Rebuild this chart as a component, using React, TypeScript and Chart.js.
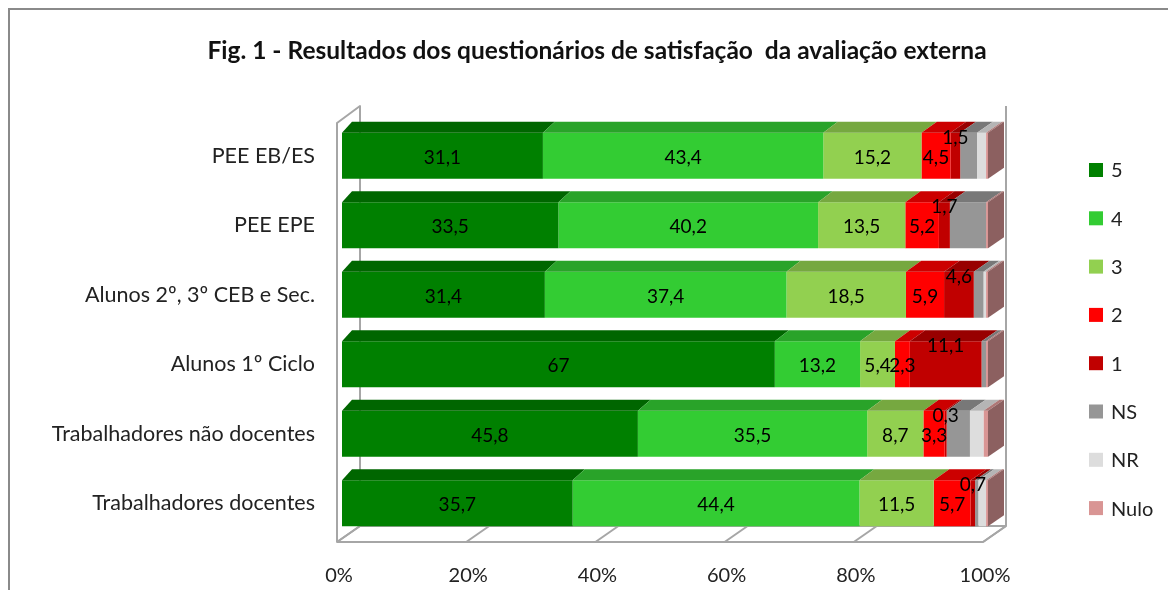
import React, { useEffect, useRef } from 'react';
import { Chart, registerables } from 'chart.js';

Chart.register(...registerables);

const categories = [
  'PEE EB/ES',
  'PEE EPE',
  'Alunos 2º, 3º CEB e Sec.',
  'Alunos 1º Ciclo',
  'Trabalhadores não docentes',
  'Trabalhadores docentes',
];
const seriesNames = ['5', '4', '3', '2', '1', 'NS', 'NR', 'Nulo'];
const v5 = [31.1, 33.5, 31.4, 67, 45.8, 35.7];
const v4 = [43.4, 40.2, 37.4, 13.2, 35.5, 44.4];
const v3 = [15.2, 13.5, 18.5, 5.4, 8.7, 11.5];
const v2 = [4.5, 5.2, 5.9, 2.3, 3.3, 5.7];
const v1 = [1.5, 1.7, 4.6, 11.1, 0.3, 0.7];
const vNS = [2.6, 5.6, 1.5, 0.7, 3.6, 0.5];
const vNR = [1.4, 0, 0.4, 0, 2.1, 1.2];
const vNulo = [0.3, 0.3, 0.3, 0.3, 0.7, 0.3];
const seriesValues = [v5, v4, v3, v2, v1, vNS, vNR, vNulo];
const labelledSeries = [true, true, true, true, true, false, false, false];
const xTicks = [0, 20, 40, 60, 80, 100];
const titleText = 'Fig. 1 - Resultados dos questionários de satisfação  da avaliação externa';

const frontColors = ['#008000', '#33CC33', '#92D050', '#FF0000', '#C00000', '#969696', '#DDDDDD', '#D99594'];
const topColors = ['#006600', '#29A329', '#76A840', '#CC0000', '#980000', '#787878', '#B5B5B5', '#AE7776'];
const sideColors = ['#005000', '#208020', '#5E8733', '#A00000', '#780000', '#5F5F5F', '#909090', '#8C6060'];

const FONT = 'Lato, Carlito, Calibri, "Open Sans", sans-serif';

const fmt = (v: number) => (Number.isInteger(v) ? String(v) : v.toFixed(1).replace('.', ','));

const box3d = {
  id: 'box3d',
  beforeDatasetsDraw(chart: any) {
    const { ctx, chartArea: ca, scales } = chart;
    const x = scales.x;
    const fx = (v: number) => x.getPixelForValue(v) - 5;
    const bx = (v: number) => x.getPixelForValue(v) + 18;
    const fy = ca.bottom + 4;
    const by = ca.bottom - 12;
    const ftop = ca.top + 2;
    const btop = ca.top - 15;
    ctx.save();
    ctx.strokeStyle = '#a6a6a6';
    ctx.lineWidth = 2;
    ctx.lineJoin = 'round';
    ctx.beginPath();
    ctx.moveTo(fx(0), fy);
    ctx.lineTo(fx(100), fy);
    ctx.lineTo(bx(100), by);
    ctx.lineTo(bx(0), by);
    ctx.closePath();
    ctx.stroke();
    xTicks.forEach((t) => {
      ctx.beginPath();
      ctx.moveTo(fx(t), fy);
      ctx.lineTo(bx(t), by);
      ctx.stroke();
    });
    ctx.beginPath();
    ctx.moveTo(fx(0), fy);
    ctx.lineTo(fx(0), ftop);
    ctx.lineTo(bx(0), btop);
    ctx.lineTo(bx(0), by);
    ctx.stroke();
    ctx.beginPath();
    ctx.moveTo(bx(100), by);
    ctx.lineTo(bx(100), btop);
    ctx.stroke();
    ctx.restore();
  },
  afterDatasetsDraw(chart: any) {
    const { ctx, chartArea: ca } = chart;
    const dy = -11;
    const dxAt = (px: number) => 10 + (6 * (px - ca.left)) / (ca.right - ca.left);
    const n = chart.data.labels.length;
    const nd = chart.data.datasets.length;
    ctx.save();
    for (let j = 0; j < n; j++) {
      let last = -1;
      for (let i = 0; i < nd; i++) {
        const el = chart.getDatasetMeta(i).data[j];
        const p = el.getProps(['x', 'y', 'base', 'height'], true);
        if (Math.abs(p.x - p.base) < 0.01) continue;
        last = i;
        const yTop = p.y - p.height / 2;
        const x0 = Math.min(p.x, p.base);
        const x1 = Math.max(p.x, p.base);
        ctx.fillStyle = topColors[i];
        ctx.beginPath();
        ctx.moveTo(x0, yTop);
        ctx.lineTo(x1, yTop);
        ctx.lineTo(x1 + dxAt(x1), yTop + dy);
        ctx.lineTo(x0 + dxAt(x0), yTop + dy);
        ctx.closePath();
        ctx.fill();
      }
      if (last >= 0) {
        const el = chart.getDatasetMeta(last).data[j];
        const p = el.getProps(['x', 'y', 'base', 'height'], true);
        const yTop = p.y - p.height / 2;
        const yBot = p.y + p.height / 2;
        const x1 = Math.max(p.x, p.base);
        const d = dxAt(x1);
        ctx.fillStyle = sideColors[last];
        ctx.beginPath();
        ctx.moveTo(x1, yTop);
        ctx.lineTo(x1 + d, yTop + dy);
        ctx.lineTo(x1 + d, yBot + dy);
        ctx.lineTo(x1, yBot);
        ctx.closePath();
        ctx.fill();
      }
    }
    ctx.fillStyle = '#000000';
    ctx.font = `19px ${FONT}`;
    ctx.textAlign = 'center';
    ctx.textBaseline = 'middle';
    for (let i = 0; i < nd; i++) {
      if (!labelledSeries[i]) continue;
      const meta = chart.getDatasetMeta(i);
      meta.data.forEach((el: any, j: number) => {
        const val = chart.data.datasets[i].data[j];
        const p = el.getProps(['x', 'y', 'base'], true);
        const cx = (p.x + p.base) / 2;
        const cy = p.y + (i === 4 ? -18 : 2);
        ctx.fillText(fmt(val), cx, cy);
      });
    }
    ctx.restore();
  },
  afterDraw(chart: any) {
    const { ctx, chartArea: ca } = chart;
    ctx.save();
    ctx.font = `20px ${FONT}`;
    ctx.textAlign = 'left';
    ctx.textBaseline = 'middle';
    const x0 = ca.right + 101;
    const y0 = ca.top + 49;
    chart.data.datasets.forEach((ds: any, i: number) => {
      const cy = y0 + i * 48.3;
      ctx.fillStyle = frontColors[i];
      ctx.fillRect(x0, cy - 7, 14, 14);
      ctx.fillStyle = '#222222';
      ctx.fillText(ds.label, x0 + 22, cy + 1);
    });
    ctx.restore();
  },
};

export default function App() {
  const ref = useRef<HTMLCanvasElement>(null);
  useEffect(() => {
    if (!ref.current) return;
    const chart = new Chart(ref.current, {
      type: 'bar',
      data: {
        labels: categories,
        datasets: seriesNames.map((name, i) => ({
          label: name,
          data: seriesValues[i],
          backgroundColor: frontColors[i],
          borderWidth: 0,
          categoryPercentage: 0.662,
          barPercentage: 1,
        })),
      },
      options: {
        indexAxis: 'y',
        responsive: false,
        animation: false,
        devicePixelRatio: 1,
        layout: { padding: { left: 8, right: 0, top: 0, bottom: 0 } },
        plugins: {
          legend: { display: false },
          tooltip: { enabled: false },
          title: {
            display: true,
            text: titleText,
            color: '#111111',
            font: { family: FONT, size: 24.5, weight: 'bold' },
            padding: { top: 26, bottom: 55.6 },
          },
        },
        scales: {
          x: {
            stacked: true,
            min: 0,
            max: 100,
            grid: { display: false, drawTicks: false },
            border: { display: false },
            afterFit: (s: any) => {
              s.height = 52;
            },
            afterBuildTicks: (s: any) => {
              s.ticks = xTicks.map((v) => ({ value: v }));
            },
            ticks: {
              padding: 26,
              labelOffset: -3,
              color: '#222222',
              font: { family: FONT, size: 20 },
              callback: (v: any) => `${v}%`,
            },
          },
          y: {
            stacked: true,
            grid: { display: false, drawTicks: false },
            border: { display: false },
            afterFit: (s: any) => {
              s.width = 324;
            },
            ticks: {
              padding: 27,
              color: '#222222',
              font: { family: FONT, size: 21.5 },
            },
          },
          legendSpace: {
            type: 'category',
            position: 'right',
            labels: [''],
            display: true,
            grid: { display: false, drawTicks: false },
            border: { display: false },
            ticks: { display: false },
            afterFit: (s: any) => {
              s.width = 188;
            },
          },
        },
      },
      plugins: [box3d],
    });
    return () => chart.destroy();
  }, []);

  return (
    <div
      style={{
        position: 'relative',
        width: 1168,
        height: 582,
        boxSizing: 'border-box',
        borderTop: '2px solid #8a8a8a',
        borderLeft: '2px solid #8a8a8a',
        overflow: 'hidden',
        background: '#ffffff',
      }}
    >
      <canvas ref={ref} width={1166} height={580} style={{ display: 'block', width: 1166, height: 580 }} />
    </div>
  );
}
